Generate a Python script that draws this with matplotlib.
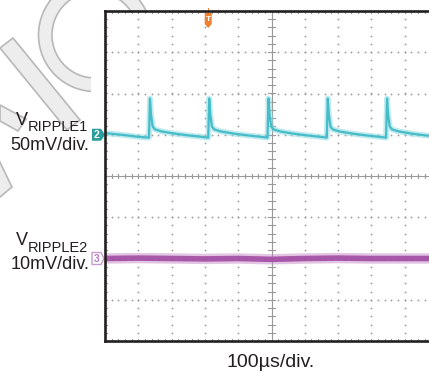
import numpy as np
import matplotlib
matplotlib.use("Agg")
import matplotlib.pyplot as plt
from matplotlib.patches import Wedge, Polygon, Rectangle

# ---------------- data (in scope divisions) ----------------
# Channel 2 (VRIPPLE1): spike instants (div) and per-cycle shape
spike_times = [1.35, 3.13, 4.91, 6.69, 8.47, 10.25]
cycle_dt = [-0.03, 0.0, 0.03, 0.08, 0.15, 0.35, 0.8, 1.2, 1.55, 1.74]
cycle_v = [0.93, 1.88, 1.50, 1.20, 1.13, 1.08, 1.02, 0.98, 0.95, 0.93]
start_t = [0.0, 0.6, 1.0]
start_v = [1.04, 0.99, 0.95]

# Channel 3 (VRIPPLE2): flat, ~ -2 div
rip2_t = [0.0, 1.0, 2.0, 3.0, 4.0, 5.0, 6.0, 7.0, 8.0, 9.0, 10.0]
rip2_v = [-2.0, -1.99, -2.0, -2.01, -2.0, -2.02, -2.0, -1.99, -2.0, -2.0, -2.0]

ch2_offset = 1.0
ch3_offset = -2.0
trig_t = 3.1

label1_main, label1_sub, label1_scale = "V", "RIPPLE1", "50mV/div."
label2_main, label2_sub, label2_scale = "V", "RIPPLE2", "10mV/div."
time_label = "100\u00b5s/div."

# ---------------- figure ----------------
W, H = 429, 373
fig = plt.figure(figsize=(W / 100, H / 100), dpi=100)
fig.patch.set_facecolor("white")

bg = fig.add_axes([0, 0, 1, 1], zorder=0)
bg.set_xlim(0, W)
bg.set_ylim(H, 0)
bg.axis("off")

# watermark
wm_face, wm_edge = "#ededed", "#b8b8b8"
bg.add_patch(Wedge((95, 35), 56.5, 0, 360, width=13.5, facecolor=wm_face,
                   edgecolor=wm_edge, lw=1.2))
bg.add_patch(Polygon([(0, 48), (13, 38), (80, 120), (67, 130)], closed=True,
                     facecolor=wm_face, edgecolor=wm_edge, lw=1.2))
bg.add_patch(Polygon([(0, 105), (26, 119), (18, 131), (0, 121)], closed=True,
                     facecolor=wm_face, edgecolor=wm_edge, lw=1.2))
bg.add_patch(Polygon([(-5, 152), (12, 187), (0, 197), (-5, 200)], closed=True,
                     facecolor=wm_face, edgecolor=wm_edge, lw=1.2))
# screenshot white area covers the watermark
bg.add_patch(Rectangle((91, 11), W, H, facecolor="white", edgecolor="none", zorder=2))

# ---------------- scope axes ----------------
L, R, T, B = 105, 438, 11, 341
ax = fig.add_axes([L / W, 1 - B / H, (R - L) / W, (B - T) / H], zorder=1)
ax.set_xlim(0, 10)
ax.set_ylim(-4, 4)
ax.patch.set_alpha(0)
ax.set_xticks([])
ax.set_yticks([])
for s in ax.spines.values():
    s.set_linewidth(1.9)
    s.set_color("#231f20")
    s.set_zorder(6)

dot_c = "#a0a0a0"
fine_x = np.arange(0, 10.01, 0.2)
fine_y = np.arange(-4, 4.01, 0.2)
for gy in range(-4, 5):
    ax.scatter(fine_x, np.full_like(fine_x, gy), s=1.8, color=dot_c, lw=0, zorder=1)
for gx in range(0, 11):
    ax.scatter(np.full_like(fine_y, gx), fine_y, s=1.8, color=dot_c, lw=0, zorder=1)
# center cross with tick marks
ax.axvline(5, color="#9a9a9a", lw=0.8, zorder=1)
ax.axhline(0, color="#9a9a9a", lw=0.8, zorder=1)
for fx in fine_x:
    ax.plot([fx, fx], [-0.06, 0.06], color="#9a9a9a", lw=0.8, zorder=1)
for fy in fine_y:
    ax.plot([4.9, 5.1], [fy, fy], color="#9a9a9a", lw=0.8, zorder=1)
for fx in fine_x:
    ax.plot([fx, fx], [3.94, 4.0], color="#9a9a9a", lw=0.8, zorder=1)
    ax.plot([fx, fx], [-4.0, -3.94], color="#9a9a9a", lw=0.8, zorder=1)
for fy in fine_y:
    ax.plot([0, 0.05], [fy, fy], color="#9a9a9a", lw=0.8, zorder=1)

# build ch2 trace from data
t1 = list(start_t)
v1 = list(start_v)
for st in spike_times:
    t1 += [st + d for d in cycle_dt]
    v1 += list(cycle_v)
t1 = np.array(t1)
v1 = np.array(v1)
ax.plot(t1, v1, color="#8fdbe2", lw=4.2, alpha=0.55, solid_joinstyle="round", zorder=3)
ax.plot(t1, v1, color="#45bcc8", lw=1.6, zorder=4)

# ch3 trace
ax.plot(rip2_t, rip2_v, color="#c78ac8", lw=7.5, alpha=0.5, zorder=3)
ax.plot(rip2_t, rip2_v, color="#a24ca3", lw=4.0, alpha=0.9, zorder=4)

# ---------------- channel markers ----------------
def ypix(v):
    return B - (v + 4) / 8 * (B - T)

y2 = ypix(ch2_offset)
bg.add_patch(Polygon([(92, y2 - 6), (101, y2 - 6), (105, y2), (101, y2 + 6), (92, y2 + 6)],
                     closed=True, facecolor="#2a9d9d", edgecolor="none", zorder=5))
bg.text(97, y2 + 0.5, "2", color="white", fontsize=7.5, fontweight="bold",
        ha="center", va="center", family="Liberation Sans", zorder=6)
y3 = ypix(ch3_offset)
bg.add_patch(Polygon([(92, y3 - 6), (101, y3 - 6), (104, y3), (101, y3 + 6), (92, y3 + 6)],
                     closed=True, facecolor="white", edgecolor="#c69bd0", lw=1.0, zorder=5))
bg.text(96.5, y3 + 0.5, "3", color="#b47cc4", fontsize=7.5, fontweight="bold",
        ha="center", va="center", family="Liberation Sans", zorder=6)

# trigger marker
xt = L + trig_t / 10 * (R - L)
bg.add_patch(Rectangle((xt - 0.6, 8), 1.2, 5, facecolor="#f08030", edgecolor="none", zorder=5))
bg.add_patch(Polygon([(xt - 3.5, 13), (xt + 3.5, 13), (xt + 3.5, 24), (xt, 28), (xt - 3.5, 24)],
                     closed=True, facecolor="#f08030", edgecolor="none", zorder=5))
bg.text(xt, 19.5, "T", color="white", fontsize=6, fontweight="bold",
        ha="center", va="center", family="Liberation Sans", zorder=6)

# ---------------- labels ----------------
fam = "Liberation Sans"
tc = "#231f20"
fig.canvas.draw()
rend = fig.canvas.get_renderer()

def vlabel(main, sub, scale, y_main, y_sub, y_scale, xr=88):
    ts = bg.text(xr, y_sub, sub, fontsize=10.5, family=fam, color=tc,
                 ha="right", va="baseline", zorder=6)
    bb = ts.get_window_extent(renderer=rend)
    xl = bb.x0  # pixels (dpi 100 => data px)
    bg.text(xl + 0.5, y_main, main, fontsize=13, family=fam, color=tc,
            ha="right", va="baseline", zorder=6)
    bg.text(xr + 1, y_scale, scale, fontsize=13, family=fam, color=tc,
            ha="right", va="baseline", zorder=6)

vlabel(label1_main, label1_sub, label1_scale, 125, 131, 150)
vlabel(label2_main, label2_sub, label2_scale, 245, 252, 269)

bg.text((L + R) / 2 - 0.5, 367, time_label, fontsize=14, family=fam, color=tc,
        ha="center", va="baseline", zorder=6)

fig.savefig("out.png", dpi=100)
